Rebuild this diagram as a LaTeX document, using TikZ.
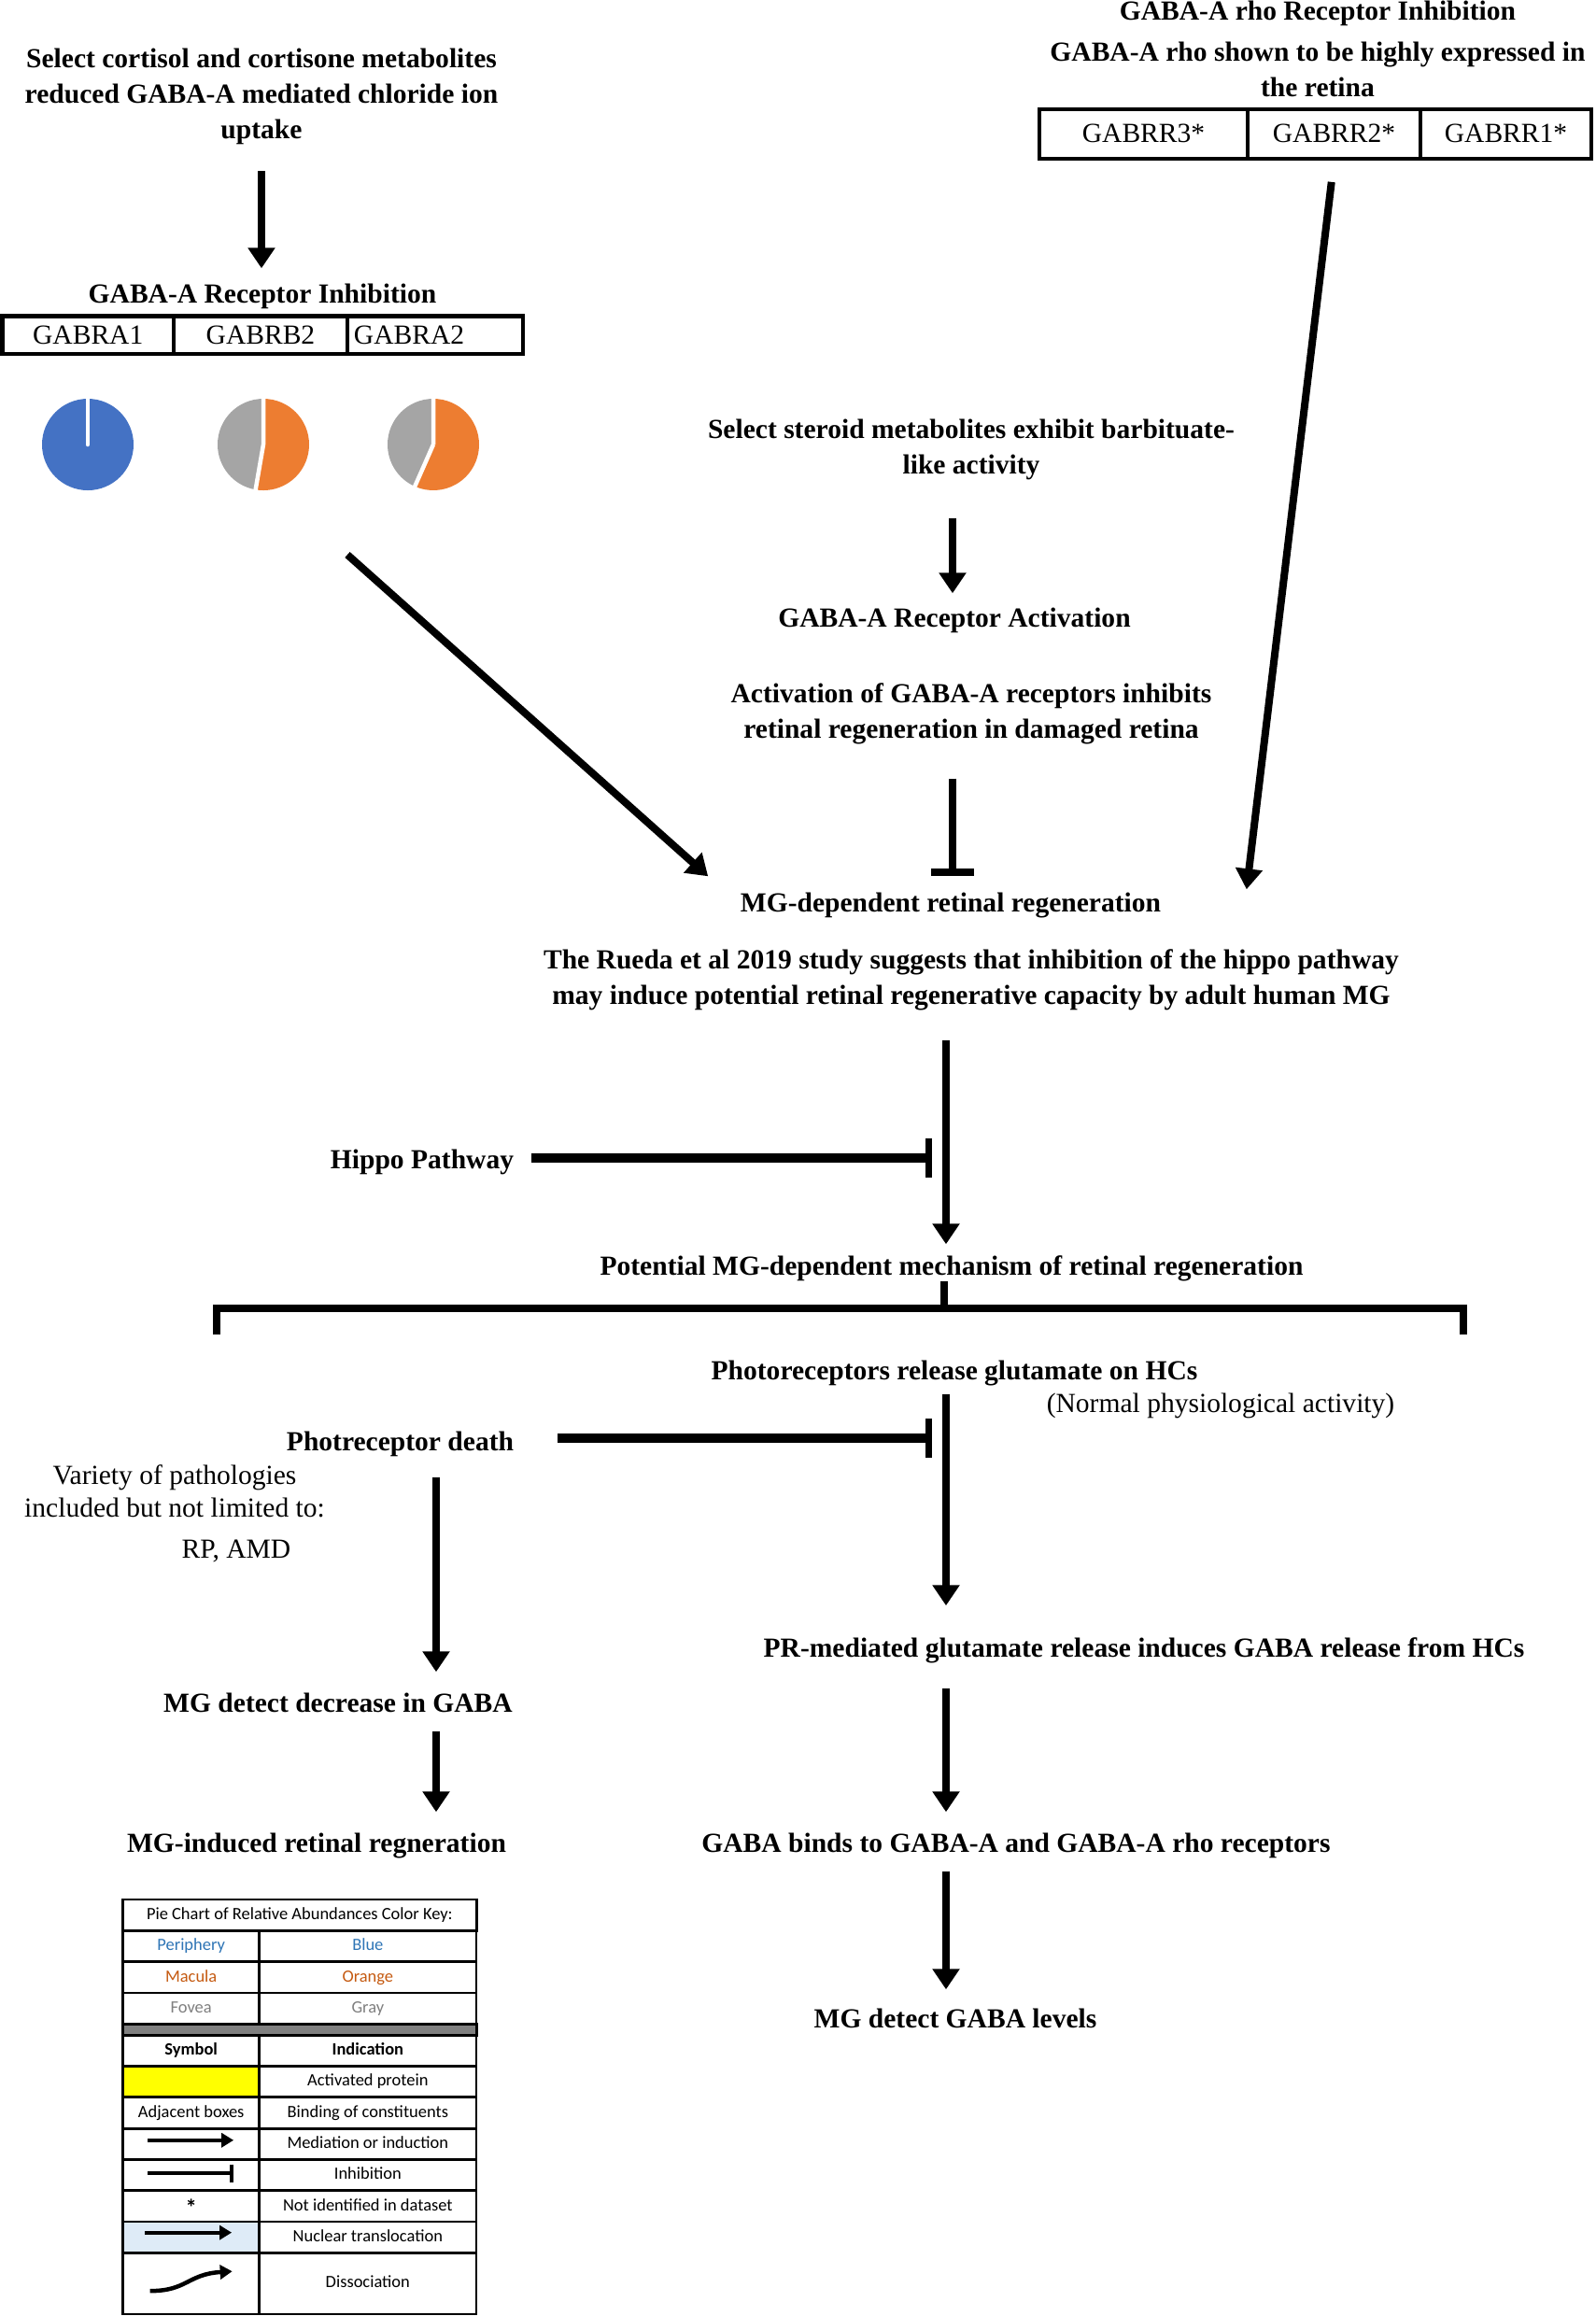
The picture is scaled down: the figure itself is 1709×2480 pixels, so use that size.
\documentclass[tikz,border=0pt]{standalone}
\usepackage{fontspec}
\setmainfont{Liberation Serif}
\newfontfamily\legendfont{Carlito}
\usetikzlibrary{arrows.meta}
\definecolor{white}{RGB}{255,255,255}
\definecolor{black}{RGB}{0,0,0}
\definecolor{pieblue}{RGB}{68,114,196}
\definecolor{pieorange}{RGB}{237,125,49}
\definecolor{piegray}{RGB}{165,165,165}
\definecolor{keyblue}{RGB}{46,117,182}
\definecolor{keyorange}{RGB}{197,90,17}
\definecolor{keygray}{RGB}{127,127,127}
\definecolor{keybar}{RGB}{128,128,128}
\definecolor{keyyellow}{RGB}{255,255,0}
\definecolor{keylight}{RGB}{222,235,247}
\newcommand{\bodysize}{\fontsize{8.4pt}{10.8pt}\selectfont}
\newcommand{\keysize}{\legendfont\fontsize{5.25pt}{6.3pt}\selectfont}

\begin{document}
\begin{tikzpicture}[x=0.01cm,y=0.01cm,
	lab/.style={inner sep=0pt,text height=0.2cm,text depth=0.065cm,anchor=base,font=\bodysize\bfseries},
	note/.style={inner sep=0pt,text height=0.2cm,text depth=0.065cm,anchor=base,font=\bodysize},
	blk/.style={inner sep=0pt,align=center,anchor=north,font=\bodysize\bfseries},
	cell/.style={draw,inner sep=0pt,font=\bodysize},
	arr/.style={line width=0.08cm,-{Triangle[length=0.22cm,width=0.28cm]}},
	inh/.style={line width=0.08cm,-{Bar[width=0.46cm]}},
	side/.style={line width=0.1cm,-{Bar[width=0.42cm,line width=0.07cm]}},
	brk/.style={line width=0.085cm},
	key/.style={draw,line width=0.028cm,inner sep=0pt,minimum height=0.333cm,text height=0.13cm,text depth=0.035cm,font=\keysize},
	keyl/.style={key,minimum width=1.46cm},
	keyr/.style={key,minimum width=2.323cm},
	keyarr/.style={line width=0.04cm,-{Triangle[length=0.13cm,width=0.15cm]}},
	keyinh/.style={line width=0.04cm,-{Bar[width=0.19cm]}}]
	\path[fill=white,use as bounding box] (0,0) rectangle (1709,-2480);

	\coordinate (midcol) at (1020,0);
	\coordinate (spine) at (1013,0);
	\coordinate (leftcol) at (467,0);
	\coordinate (inhout) at (372,-594);
	\coordinate (brtop) at (1011,-1401);
	\coordinate (brL) at (232,-1429);
	\coordinate (brR) at (1567,-1429);
	\coordinate (pie1) at (94,-476);
	\coordinate (pie2) at (282,-476);
	\coordinate (pie3) at (464,-476);

	\node[blk] (cort) at (280,-51) {Select cortisol and cortisone metabolites\\reduced GABA-A mediated chloride ion\\uptake};
	\node[lab] (recinh) at (281,-324) {GABA-A Receptor Inhibition};
	\node[cell,line width=0.045cm,minimum width=1.835cm,minimum height=0.404cm] (gabra1) at (94.25,-358.8) {GABRA1};
	\node[cell,line width=0.045cm,minimum width=1.86cm,minimum height=0.404cm] (gabrb2) at (279,-358.8) {GABRB2};
	\node[cell,line width=0.045cm,text width=1.74cm,align=left,inner xsep=0.07cm,minimum height=0.404cm] (gabra2) at (466,-358.8) {GABRA2};

	\node[lab] (rhoinh) at (1411,-21) {GABA-A rho Receptor Inhibition};
	\node[blk] (rhoexp) at (1411,-44) {GABA-A rho shown to be highly expressed in\\the retina};
	\node[cell,line width=0.04cm,minimum width=2.23cm,minimum height=0.53cm,text height=0.2cm,text depth=0.02cm] (gabrr3) at (1224.5,-143.5) {GABRR3*};
	\node[cell,line width=0.04cm,minimum width=1.85cm,minimum height=0.53cm,text height=0.2cm,text depth=0.02cm] (gabrr2) at (1428.5,-143.5) {GABRR2*};
	\node[cell,line width=0.04cm,minimum width=1.83cm,minimum height=0.53cm,text height=0.2cm,text depth=0.02cm] (gabrr1) at (1612.5,-143.5) {GABRR1*};

	\fill[pieblue] (pie1) circle[radius=49];
	\draw[white,line width=0.045cm,line cap=round] (pie1) -- ++(90:50);
	\foreach \p/\a in {pie2/-99.8,pie3/-113.8}{
		\fill[pieorange] (\p) -- ++(90:49) arc[start angle=90,end angle=\a,radius=49] -- cycle;
		\fill[piegray] (\p) -- ++(90:49) arc[start angle=90,end angle=\a+360,radius=49] -- cycle;
		\draw[white,line width=0.045cm] (\p) -- ++(90:50) (\p) -- ++(\a:50);
	}

	\node[blk] (steroid) at (1040,-448) {Select steroid metabolites exhibit barbituate-\\like activity};
	\node[lab] (act) at (1022,-671) {GABA-A Receptor Activation};
	\node[blk] (actinh) at (1040,-731) {Activation of GABA-A receptors inhibits\\retinal regeneration in damaged retina};
	\node[lab] (mgdep) at (1018,-976) {MG-dependent retinal regeneration};
	\node[blk] (rueda) at (1040,-1016) {The Rueda et al 2019 study suggests that inhibition of the hippo pathway\\may induce potential retinal regenerative capacity by adult human MG};
	\node[lab] (hippo) at (452,-1251) {Hippo Pathway};
	\node[lab] (potential) at (1019,-1365) {Potential MG-dependent mechanism of retinal regeneration};

	\node[lab] (photo) at (1022,-1477) {Photoreceptors release glutamate on HCs};
	\node[note] (normal) at (1307,-1512) {(Normal physiological activity)};
	\node[lab] (death) at (428.5,-1553) {Photreceptor death};
	\node[blk,font=\fontsize{8.4pt}{9.9pt}\selectfont] (variety) at (187,-1568) {Variety of pathologies\\included but not limited to:};
	\node[note] (rpamd) at (253,-1668) {RP, AMD};
	\node[lab] (mgdec) at (362,-1833) {MG detect decrease in GABA};
	\node[lab] (mgind) at (339,-1983) {MG-induced retinal regneration};
	\node[lab] (prmed) at (1225,-1774) {PR-mediated glutamate release induces GABA release from HCs};
	\node[lab] (gababind) at (1088,-1983) {GABA binds to GABA-A and GABA-A rho receptors};
	\node[lab] (mglev) at (1023,-2171) {MG detect GABA levels};

	\draw[arr,shorten <=0.28cm,shorten >=0.16cm] (cort.south) -- (cort.south |- recinh.north);
	\draw[arr] (inhout) -- ([xshift=-0.34cm,yshift=0.17cm]mgdep.north west);
	\draw[arr,shorten <=0.23cm] (gabrr2.south) -- ([xshift=0.91cm,yshift=0.03cm]mgdep.north east);
	\draw[arr,shorten <=0.41cm,shorten >=0.15cm] (steroid.south -| midcol) -- (act.north -| midcol);
	\draw[inh,shorten <=0.36cm,shorten >=0.17cm] (actinh.south -| midcol) -- (mgdep.north -| midcol);
	\draw[side,shorten <=0.18cm,shorten >=0.15cm] ([yshift=0.04cm]hippo.east) -- ([yshift=0.04cm]hippo.east -| spine);
	\draw[side,shorten <=0.46cm,shorten >=0.15cm] ([yshift=0.06cm]death.east) -- ([yshift=0.06cm]death.east -| spine);
	\draw[brk] (brtop |- potential.south) -- (brtop);
	\draw[brk] (brL) |- (brtop) -| (brR);
	\foreach \a/\b/\s/\e in {rueda/potential/0.31cm/0.12cm,photo/prmed/0.085cm/0.34cm,prmed/gababind/0.265cm/0.22cm,gababind/mglev/0.135cm/0.2cm}
		\draw[arr,shorten <=\s,shorten >=\e] (\a.south -| spine) -- (\b.north -| spine);
	\foreach \a/\b/\s/\e in {death/mgdec/0.215cm/0.22cm,mgdec/mgind/0.135cm/0.22cm}
		\draw[arr,shorten <=\s,shorten >=\e] (\a.south -| leftcol) -- (\b.north -| leftcol);

	\node[key,minimum width=3.783cm] (keyhead) at (320.85,-2050.65) {Pie Chart of Relative Abundances Color Key:};
	\foreach \n/\y/\a/\b/\c in {per/2083.95/Periphery/Blue/keyblue,mac/2117.25/Macula/Orange/keyorange,fov/2150.55/Fovea/Gray/keygray}{
		\node[keyl,text=\c] (\n1) at (204.7,-\y) {\a};
		\node[keyr,text=\c] (\n2) at (393.85,-\y) {\b};
	}
	\node[key,minimum width=3.783cm,minimum height=0.12cm,text height=0pt,text depth=0pt,fill=keybar] (sep) at (320.85,-2173.2) {};
	\node[keyl,font=\keysize\bfseries] (sym1) at (204.7,-2195.85) {Symbol};
	\node[keyr,font=\keysize\bfseries] (sym2) at (393.85,-2195.85) {Indication};
	\node[keyl,fill=keyyellow] (yel1) at (204.7,-2229.15) {};
	\node[keyr] (yel2) at (393.85,-2229.15) {Activated protein};
	\node[keyl] (adj1) at (204.7,-2262.45) {Adjacent boxes};
	\node[keyr] (adj2) at (393.85,-2262.45) {Binding of constituents};
	\node[keyl] (med1) at (204.7,-2295.75) {};
	\node[keyr] (med2) at (393.85,-2295.75) {Mediation or induction};
	\node[keyl] (inh1) at (204.7,-2329.05) {};
	\node[keyr] (inh2) at (393.85,-2329.05) {Inhibition};
	\node[keyl,font=\legendfont\fontsize{7pt}{8pt}\selectfont\bfseries] (nid1) at (204.7,-2362.35) {\raisebox{-0.45ex}{*}};
	\node[keyr] (nid2) at (393.85,-2362.35) {Not identified in dataset};
	\node[keyl,fill=keylight] (nuc1) at (204.7,-2395.65) {};
	\node[keyr] (nuc2) at (393.85,-2395.65) {Nuclear translocation};
	\node[keyl,minimum height=0.657cm] (dis1) at (204.7,-2445.15) {};
	\node[keyr,minimum height=0.657cm] (dis2) at (393.85,-2445.15) {Dissociation};

	\draw[keyarr] ([xshift=0.28cm,yshift=0.04cm]med1.west) -- ([xshift=-0.29cm,yshift=0.04cm]med1.east);
	\draw[keyinh] ([xshift=0.28cm,yshift=0.02cm]inh1.west) -- ([xshift=-0.29cm,yshift=0.02cm]inh1.east);
	\draw[keyarr] ([xshift=0.25cm,yshift=0.05cm]nuc1.west) -- ([xshift=-0.31cm,yshift=0.05cm]nuc1.east);
	\draw[keyarr,line width=0.045cm] ([shift={(-44,-8)}]dis1.center) .. controls +(40,0) and +(-48,-3) .. ([shift={(44,13)}]dis1.center);
\end{tikzpicture}
\end{document}
